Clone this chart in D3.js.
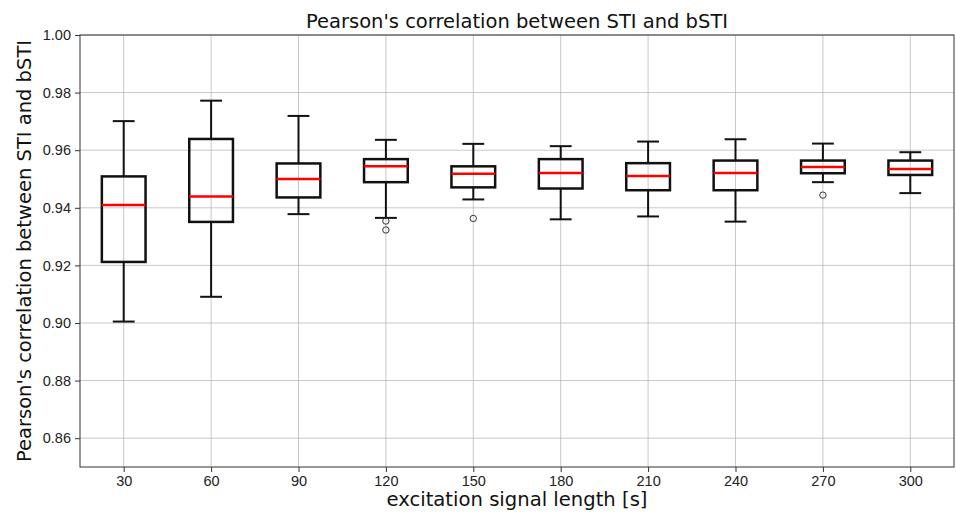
<!DOCTYPE html>
<html>
<head>
<meta charset="utf-8">
<script src="https://cdn.jsdelivr.net/npm/d3@7"></script>
<style>
  body { margin: 0; background: #fff; }
  svg { font-family: "DejaVu Sans", sans-serif; }
  .tick text { font-size: 14.5px; fill: #222; }
</style>
</head>
<body>
<svg width="956" height="513"></svg>
<script>
// excitation signal lengths [s]
const lengths = [30, 60, 90, 120, 150, 180, 210, 240, 270, 300]
// box stats
const whiskLo = [0.9005, 0.9091, 0.9378, 0.9365, 0.9429, 0.9360, 0.9370, 0.9352, 0.9489, 0.9451]
const q1 = [0.9212, 0.9351, 0.9436, 0.9489, 0.9471, 0.9467, 0.9461, 0.9461, 0.9520, 0.9514]
const median = [0.9410, 0.9439, 0.9500, 0.9544, 0.9518, 0.9521, 0.9510, 0.9521, 0.9542, 0.9535]
const q3 = [0.9509, 0.9639, 0.9554, 0.9569, 0.9544, 0.9569, 0.9555, 0.9564, 0.9564, 0.9564]
const whiskHi = [0.9701, 0.9772, 0.9719, 0.9636, 0.9622, 0.9614, 0.9630, 0.9638, 0.9623, 0.9593]
const outliers = [[], [], [], [0.9354, 0.9323], [0.9363], [], [], [], [0.9444], []]
const yTicks = [0.86, 0.88, 0.90, 0.92, 0.94, 0.96, 0.98, 1.00]

const margin = { left: 80, right: 2, top: 35, bottom: 46 }
const W = 956, H = 513
const svg = d3.select("svg")

const x = d3.scaleLinear().domain([0.5, 10.5]).range([margin.left, W - margin.right])
const y = d3.scaleLinear().domain([0.85, 1.00]).range([H - margin.bottom, margin.top])

const boxes = lengths.map((l, i) => ({
    pos: i + 1, label: l, lo: whiskLo[i], q1: q1[i], med: median[i], q3: q3[i], hi: whiskHi[i], out: outliers[i]
}))

// grid
svg.append("g").selectAll("line.vgrid")
    .data(boxes)
    .enter().append("line")
    .attr("x1", d => x(d.pos)).attr("x2", d => x(d.pos))
    .attr("y1", y(0.85)).attr("y2", y(1.0))
    .attr("stroke", "#b0b0b0").attr("stroke-opacity", 0.7).attr("stroke-width", 1)

svg.append("g").selectAll("line.hgrid")
    .data(yTicks)
    .enter().append("line")
    .attr("x1", x(0.5)).attr("x2", x(10.5))
    .attr("y1", d => y(d)).attr("y2", d => y(d))
    .attr("stroke", "#b0b0b0").attr("stroke-opacity", 0.7).attr("stroke-width", 1)

const halfBox = (x(1.25) - x(1))
const halfCap = halfBox / 2

const g = svg.append("g").selectAll("g.box")
    .data(boxes)
    .enter().append("g")

// whiskers
g.append("line")
    .attr("x1", d => x(d.pos)).attr("x2", d => x(d.pos))
    .attr("y1", d => y(d.q3)).attr("y2", d => y(d.hi))
    .attr("stroke", "#111").attr("stroke-width", 2)
g.append("line")
    .attr("x1", d => x(d.pos)).attr("x2", d => x(d.pos))
    .attr("y1", d => y(d.q1)).attr("y2", d => y(d.lo))
    .attr("stroke", "#111").attr("stroke-width", 2)
// caps
g.append("line")
    .attr("x1", d => x(d.pos) - halfCap).attr("x2", d => x(d.pos) + halfCap)
    .attr("y1", d => y(d.hi)).attr("y2", d => y(d.hi))
    .attr("stroke", "#111").attr("stroke-width", 2)
g.append("line")
    .attr("x1", d => x(d.pos) - halfCap).attr("x2", d => x(d.pos) + halfCap)
    .attr("y1", d => y(d.lo)).attr("y2", d => y(d.lo))
    .attr("stroke", "#111").attr("stroke-width", 2)
// box
g.append("rect")
    .attr("x", d => x(d.pos) - halfBox)
    .attr("width", halfBox * 2)
    .attr("y", d => y(d.q3))
    .attr("height", d => y(d.q1) - y(d.q3))
    .attr("fill", "none").attr("stroke", "#111").attr("stroke-width", 2.5)
// median
g.append("line")
    .attr("x1", d => x(d.pos) - halfBox).attr("x2", d => x(d.pos) + halfBox)
    .attr("y1", d => y(d.med)).attr("y2", d => y(d.med))
    .attr("stroke", "#ff0000").attr("stroke-width", 2.5)
// fliers
g.selectAll("circle")
    .data(d => d.out.map(v => ({ pos: d.pos, v })))
    .enter().append("circle")
    .attr("cx", d => x(d.pos)).attr("cy", d => y(d.v))
    .attr("r", 3.2)
    .attr("fill", "none").attr("stroke", "#333").attr("stroke-width", 1)

// axes
const xAxis = d3.axisBottom(x)
    .tickValues(boxes.map(d => d.pos))
    .tickFormat((d, i) => lengths[i])
    .tickSize(5).tickPadding(4)
const gx = svg.append("g").attr("transform", `translate(0,${y(0.85)})`).call(xAxis)
gx.select(".domain").remove()
gx.selectAll(".tick line").attr("stroke", "#333")

const yAxis = d3.axisLeft(y).tickValues(yTicks).tickFormat(d3.format(".2f")).tickSize(5).tickPadding(4)
const gy = svg.append("g").attr("transform", `translate(${x(0.5)},0)`).call(yAxis)
gy.select(".domain").remove()
gy.selectAll(".tick line").attr("stroke", "#333")

// frame
svg.append("rect")
    .attr("x", x(0.5)).attr("y", y(1.0))
    .attr("width", x(10.5) - x(0.5)).attr("height", y(0.85) - y(1.0))
    .attr("fill", "none").attr("stroke", "#333").attr("stroke-width", 1)

// labels
svg.append("text")
    .attr("x", 517).attr("y", 28)
    .attr("text-anchor", "middle").attr("font-size", 19.5).attr("fill", "#111")
    .text("Pearson's correlation between STI and bSTI")

svg.append("text")
    .attr("x", 517).attr("y", 506)
    .attr("text-anchor", "middle").attr("font-size", 19.6).attr("fill", "#111")
    .text("excitation signal length [s]")

svg.append("text")
    .attr("transform", `translate(31,${(y(0.85) + y(1.0)) / 2}) rotate(-90)`)
    .attr("text-anchor", "middle").attr("font-size", 19.5).attr("fill", "#111")
    .text("Pearson's correlation between STI and bSTI")
</script>
</body>
</html>
